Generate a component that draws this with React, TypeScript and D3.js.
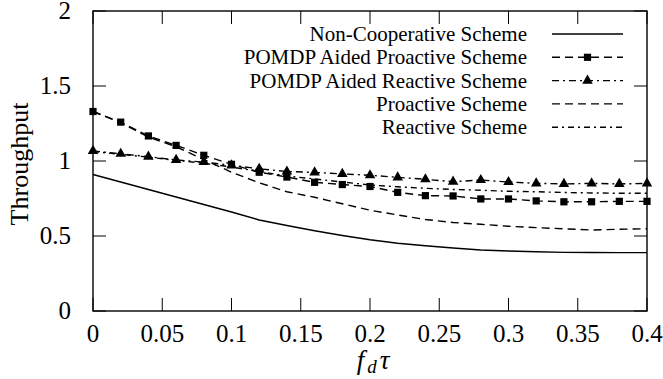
import React, { useEffect, useRef } from "react";
import * as d3 from "d3";

// fd*tau sample points (every 0.02)
const fdTau = [0, 0.02, 0.04, 0.06, 0.08, 0.1, 0.12, 0.14, 0.16, 0.18, 0.2,
    0.22, 0.24, 0.26, 0.28, 0.3, 0.32, 0.34, 0.36, 0.38, 0.4];

const nonCooperative = [0.91, 0.86, 0.81, 0.76, 0.71, 0.66, 0.607, 0.57, 0.535, 0.503, 0.475,
    0.452, 0.435, 0.42, 0.407, 0.4, 0.395, 0.391, 0.39, 0.389, 0.389];
const pomdpProactive = [1.33, 1.259, 1.167, 1.104, 1.038, 0.978, 0.925, 0.893, 0.858, 0.843, 0.83,
    0.791, 0.769, 0.767, 0.747, 0.747, 0.734, 0.728, 0.728, 0.731, 0.731];
const pomdpReactive = [1.067, 1.048, 1.029, 1.007, 0.993, 0.971, 0.948, 0.93, 0.924, 0.914, 0.905,
    0.891, 0.878, 0.862, 0.873, 0.86, 0.851, 0.847, 0.851, 0.847, 0.851];
const proactive = [1.33, 1.255, 1.16, 1.095, 1.01, 0.925, 0.855, 0.795, 0.758, 0.715, 0.672,
    0.64, 0.61, 0.59, 0.578, 0.565, 0.556, 0.548, 0.54, 0.545, 0.548];
const reactive = [1.063, 1.045, 1.025, 1.005, 0.985, 0.96, 0.93, 0.9, 0.88, 0.86, 0.84,
    0.828, 0.818, 0.81, 0.805, 0.798, 0.795, 0.79, 0.787, 0.785, 0.785];

const seriesNames = [
    "Non-Cooperative Scheme",
    "POMDP Aided Proactive Scheme",
    "POMDP Aided Reactive Scheme",
    "Proactive Scheme",
    "Reactive Scheme",
];

const xTicks = [0, 0.05, 0.1, 0.15, 0.2, 0.25, 0.3, 0.35, 0.4];
const yTicks = [0, 0.5, 1, 1.5, 2];

const FONT = "Liberation Serif";

export default function App() {
    const ref = useRef<SVGSVGElement | null>(null);

    useEffect(() => {
        const svg = d3.select(ref.current);
        svg.selectAll("*").remove();

        const margin = {top: 11, right: 16, bottom: 68, left: 93},
            width = 663 - margin.left - margin.right,
            height = 379 - margin.top - margin.bottom;

        const x = d3.scaleLinear().domain([0, 0.4]).range([0, width]);
        const y = d3.scaleLinear().domain([0, 2]).range([height, 0]);

        const g = svg.append("g")
            .attr("transform", `translate(${margin.left},${margin.top})`);

        const series = [
            {name: seriesNames[0], values: nonCooperative, dash: null, marker: null},
            {name: seriesNames[1], values: pomdpProactive, dash: "8,5", marker: "square"},
            {name: seriesNames[2], values: pomdpReactive, dash: "7,4,2,4", marker: "triangle"},
            {name: seriesNames[3], values: proactive, dash: "8,5", marker: null},
            {name: seriesNames[4], values: reactive, dash: "6,4,2,4", marker: null},
        ];

        const line = d3.line<number>()
            .x((d, i) => x(fdTau[i]))
            .y(d => y(d));

        const square = d3.symbol().type(d3.symbolSquare).size(52);
        const triangle = d3.symbol().type(d3.symbolTriangle).size(48);

        // ticks, inward on all sides
        const tickLen = 13;
        xTicks.forEach(t => {
            g.append("line").attr("x1", x(t)).attr("x2", x(t)).attr("y1", height).attr("y2", height - tickLen)
                .attr("stroke", "#000").attr("stroke-width", 1);
            g.append("line").attr("x1", x(t)).attr("x2", x(t)).attr("y1", 0).attr("y2", tickLen)
                .attr("stroke", "#000").attr("stroke-width", 1);
            g.append("text")
                .attr("x", x(t)).attr("y", height + 31)
                .attr("text-anchor", "middle")
                .attr("font-family", FONT)
                .attr("font-size", 25)
                .text(String(t));
        });
        yTicks.forEach(t => {
            g.append("line").attr("x1", 0).attr("x2", tickLen).attr("y1", y(t)).attr("y2", y(t))
                .attr("stroke", "#000").attr("stroke-width", 1);
            g.append("line").attr("x1", width).attr("x2", width - tickLen).attr("y1", y(t)).attr("y2", y(t))
                .attr("stroke", "#000").attr("stroke-width", 1);
            g.append("text")
                .attr("x", -22).attr("y", y(t) + 8)
                .attr("text-anchor", "end")
                .attr("font-family", FONT)
                .attr("font-size", 25)
                .text(String(t));
        });

        series.forEach(s => {
            g.append("path")
                .datum(s.values)
                .attr("d", line)
                .attr("fill", "none")
                .attr("stroke", "#000")
                .attr("stroke-width", 1.4)
                .attr("stroke-dasharray", s.dash);
            if (s.marker) {
                g.selectAll(null)
                    .data(s.values)
                    .enter().append("path")
                    .attr("transform", (d, i) => `translate(${x(fdTau[i])},${y(d)})`)
                    .attr("d", s.marker === "square" ? square : triangle)
                    .attr("fill", "#000");
            }
        });

        // frame
        g.append("rect")
            .attr("width", width).attr("height", height)
            .attr("fill", "none").attr("stroke", "#000").attr("stroke-width", 1.4);

        // legend
        const legend = g.append("g").attr("transform", `translate(${527 - margin.left},${34 - margin.top})`);
        series.forEach((s, i) => {
            const row = legend.append("g").attr("transform", `translate(0,${i * 23.3})`);
            row.append("text")
                .attr("x", 0).attr("y", 7)
                .attr("text-anchor", "end")
                .attr("font-family", FONT)
                .attr("font-size", 21)
                .text(s.name);
            row.append("line")
                .attr("x1", 25).attr("x2", 96).attr("y1", 0).attr("y2", 0)
                .attr("stroke", "#000").attr("stroke-width", 1.4)
                .attr("stroke-dasharray", s.dash);
            if (s.marker) {
                row.append("path")
                    .attr("transform", "translate(60.5,0)")
                    .attr("d", s.marker === "square" ? square : triangle)
                    .attr("fill", "#000");
            }
        });

        // axis titles
        svg.append("text")
            .attr("transform", "translate(28,164) rotate(-90)")
            .attr("text-anchor", "middle")
            .attr("font-family", FONT)
            .attr("font-size", 26)
            .text("Throughput");

        const xt = svg.append("text")
            .attr("x", 373).attr("y", 369)
            .attr("text-anchor", "middle")
            .attr("font-family", FONT)
            .attr("font-size", 27)
            .attr("font-style", "italic");
        xt.append("tspan").text("f");
        xt.append("tspan").attr("dx", 3).attr("dy", 4).attr("font-size", 19).text("d");
        xt.append("tspan").attr("dx", 3).attr("dy", -4).text("\u03c4");
    }, []);

    return (
        <svg ref={ref} width={663} height={379}
            style={{position: "absolute", left: 0, top: 0, background: "#fff"}} />
    );
}
